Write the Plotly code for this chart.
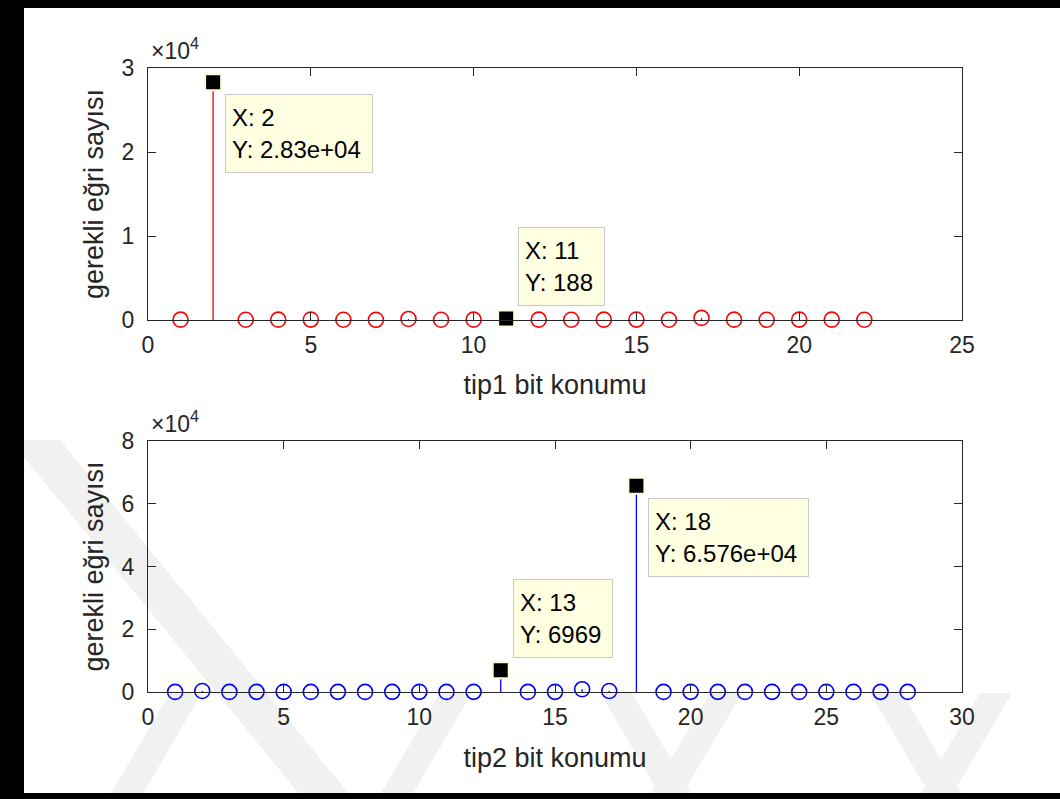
import plotly.graph_objects as go

# Figure size in pixels
W, H = 1060, 799

# ---- data -------------------------------------------------------------
tip1_x = list(range(1, 23))
tip1_y = [40, 28300, 30, 40, 50, 30, 20, 120, 30, 40, 188, 40,
          30, 40, 50, 30, 250, 40, 30, 50, 40, 30]

tip2_x = list(range(1, 29))
tip2_y = [30, 320, 30, 40, 50, 30, 40, 30, 40, 50, 30, 40, 6969, 30,
          50, 900, 320, 65760, 30, 50, 40, 30, 40, 30, 50, 30, 40, 30]

# data tips: (x position, box placement)
tip1_marks = [(2, "down"), (11, "up")]
tip2_marks = [(13, "up"), (18, "down")]

x1_ticks = [0, 5, 10, 15, 20, 25]
x2_ticks = [0, 5, 10, 15, 20, 25, 30]
y1_ticks = [0, 1, 2, 3]
y2_ticks = [0, 2, 4, 6, 8]
y_scale = 1e4

x1_title = "tip1 bit konumu"
x2_title = "tip2 bit konumu"
y_title = "gerekli eğri sayısı"

# ---- layout helpers ---------------------------------------------------
FONT = "Liberation Sans, Arial, Helvetica, sans-serif"
AX = "#262626"
TICK_SIZE = 23
TITLE_SIZE = 27
TIP_SIZE = 24


def px_x(p):
    return p / W


def px_y(p):
    return 1 - p / H


x_dom = [px_x(148), px_x(962)]
y1_dom = [px_y(320), px_y(68)]
y2_dom = [px_y(692), px_y(441)]

fig = go.Figure()


def stem(xs, ys, color, xa, ya):
    sx, sy = [], []
    for xv, yv in zip(xs, ys):
        sx += [xv, xv, None]
        sy += [0, yv, None]
    fig.add_trace(go.Scatter(x=sx, y=sy, mode="lines", xaxis=xa, yaxis=ya,
                             line=dict(color=color, width=1.3),
                             cliponaxis=False,
                             hoverinfo="skip", showlegend=False))
    fig.add_trace(go.Scatter(x=xs, y=ys, mode="markers", xaxis=xa, yaxis=ya,
                             marker=dict(symbol="circle-open", size=15,
                                         color=color, line=dict(width=1.6)),
                             cliponaxis=False, showlegend=False))


stem(tip1_x, tip1_y, "#ff0000", "x", "y")
stem(tip2_x, tip2_y, "#0000ff", "x2", "y2")


def datatips(xs, ys, marks, xa, ya, widths):
    mx = [m[0] for m in marks]
    my = [ys[xs.index(m[0])] for m in marks]
    fig.add_trace(go.Scatter(x=mx, y=my, mode="markers", xaxis=xa, yaxis=ya,
                             marker=dict(symbol="square", size=16, color="black",
                                         line=dict(color="#fbfbd9", width=2)),
                             cliponaxis=False, showlegend=False))
    for (xv, place), yv, wdt in zip(marks, my, widths):
        fig.add_annotation(
            x=xv, y=yv, xref=xa, yref=ya,
            text="X: %d<br>Y: %s" % (xv, "%.4g" % yv),
            showarrow=False, align="left",
            xanchor="left", yanchor="top" if place == "down" else "bottom",
            xshift=12, yshift=-12 if place == "down" else 12,
            width=wdt, height=65, borderpad=6,
            bgcolor="#ffffe1", bordercolor="#c8c8c8", borderwidth=1,
            font=dict(family=FONT, size=TIP_SIZE, color="black"))


datatips(tip1_x, tip1_y, tip1_marks, "x", "y", [134, 73])
datatips(tip2_x, tip2_y, tip2_marks, "x2", "y2", [86, 147])

axis_common = dict(
    showline=True, linecolor=AX, linewidth=1, mirror="ticks",
    ticks="inside", ticklen=8, tickwidth=1, tickcolor=AX,
    showgrid=False, zeroline=False, automargin=False,
    tickfont=dict(family=FONT, size=TICK_SIZE, color=AX),
)
title_font = dict(family=FONT, size=TITLE_SIZE, color=AX)

fig.update_layout(
    template="none",
    width=W, height=H,
    margin=dict(l=0, r=0, t=0, b=0, pad=0, autoexpand=False),
    paper_bgcolor="white", plot_bgcolor="rgba(0,0,0,0)",
    showlegend=False,
    xaxis=dict(domain=x_dom, anchor="y", range=[0, 25], tickvals=x1_ticks,
               ticklabelstandoff=4,
               title=dict(text=x1_title, standoff=18, font=title_font),
               **axis_common),
    yaxis=dict(domain=y1_dom, anchor="x", range=[0, 3 * y_scale],
               tickvals=[v * y_scale for v in y1_ticks],
               ticktext=[str(v) for v in y1_ticks], ticklabelstandoff=8,
               title=dict(text=y_title, standoff=10, font=title_font),
               **axis_common),
    xaxis2=dict(domain=x_dom, anchor="y2", range=[0, 30], tickvals=x2_ticks,
                ticklabelstandoff=4,
                title=dict(text=x2_title, standoff=19, font=title_font),
                **axis_common),
    yaxis2=dict(domain=y2_dom, anchor="x2", range=[0, 8 * y_scale],
                tickvals=[v * y_scale for v in y2_ticks],
                ticktext=[str(v) for v in y2_ticks], ticklabelstandoff=8,
                title=dict(text=y_title, standoff=10, font=title_font),
                **axis_common),
)

# exponent labels above each y axis
for ytop in (66, 439):
    fig.add_annotation(xref="paper", yref="paper", x=px_x(149), y=px_y(ytop),
                       xanchor="left", yanchor="bottom", showarrow=False,
                       text="×10<sup>4</sup>",
                       font=dict(family=FONT, size=TICK_SIZE, color=AX))


def band(points, color="#f1f1f1"):
    path = "M " + " L ".join("%.5f,%.5f" % (px_x(a), px_y(b)) for a, b in points) + " Z"
    fig.add_shape(type="path", xref="paper", yref="paper", path=path,
                  fillcolor=color, line=dict(width=0), layer="below")


# faint diagonal watermark stripes
band([(10, 440), (60, 440), (350, 795), (300, 795)])
for bx in (110, 380, 650, 920):
    band([(bx, 795), (bx + 32, 795), (bx + 92, 693), (bx + 60, 693)])
for tx in (600, 870):
    band([(tx, 693), (tx + 32, 693), (tx + 92, 795), (tx + 60, 795)])

# figure frame on the left, top and bottom edges
for x0, y0, x1, y1 in [(-6, -6, 24, H + 6), (-6, -6, W + 6, 8), (-6, 793, W + 6, H + 6)]:
    fig.add_shape(type="rect", xref="paper", yref="paper",
                  x0=px_x(x0), x1=px_x(x1), y0=px_y(y1), y1=px_y(y0),
                  fillcolor="black", line=dict(width=0), layer="above")

fig.write_html("out.html")
